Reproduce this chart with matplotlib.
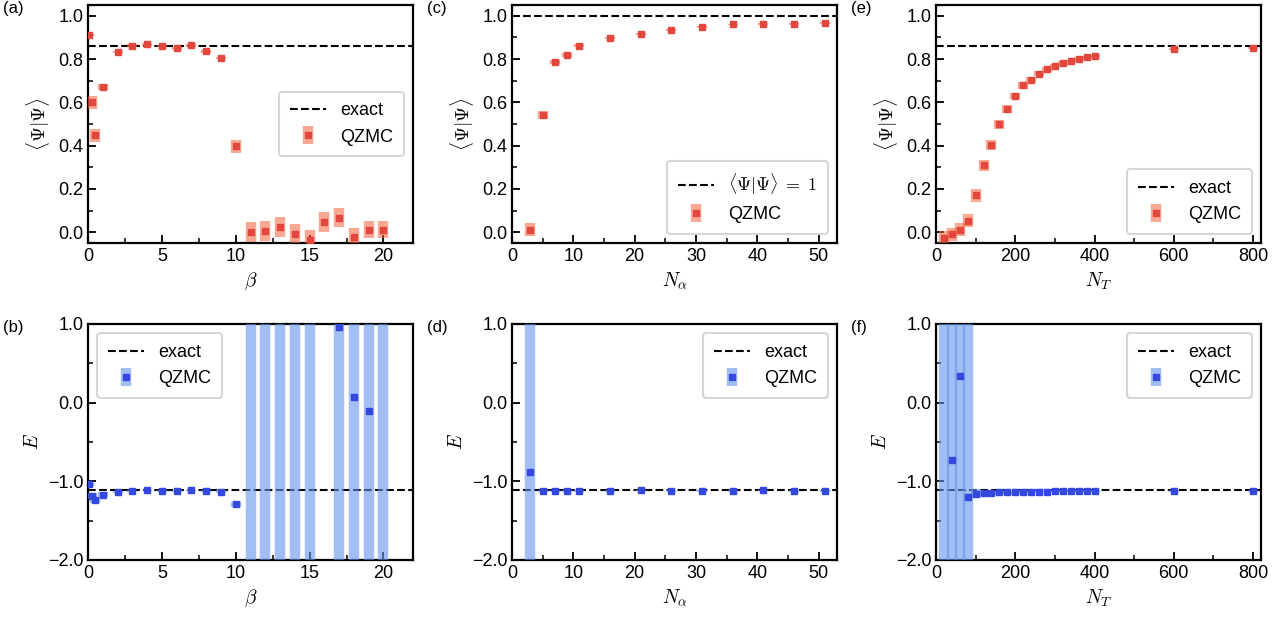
import numpy as np
import matplotlib
matplotlib.use('Agg')
import matplotlib.pyplot as plt
from matplotlib.ticker import MultipleLocator, FuncFormatter

plt.rcParams['font.family'] = ['Liberation Sans', 'DejaVu Sans']
plt.rcParams['mathtext.fontset'] = 'cm'
plt.rcParams['font.size'] = 13

# ---- data ----
beta = [0.1, 0.25, 0.5, 1, 2, 3, 4, 5, 6, 7, 8, 9, 10,
        11, 12, 13, 14, 15, 16, 17, 18, 19, 20]
norm_beta = [0.91, 0.60, 0.448, 0.67, 0.833, 0.862, 0.868, 0.860, 0.850, 0.864, 0.836, 0.805, 0.398,
             0.0, 0.006, 0.025, -0.009, -0.036, 0.047, 0.067, -0.02, 0.011, 0.012]
norm_beta_err = [0.005, 0.03, 0.03, 0.015, 0.006, 0.006, 0.006, 0.006, 0.006, 0.006, 0.006, 0.006, 0.03,
                 0.045, 0.045, 0.045, 0.045, 0.045, 0.045, 0.045, 0.04, 0.04, 0.04]
E_beta = [-1.04, -1.19, -1.24, -1.17, -1.135, -1.12, -1.115, -1.12, -1.12, -1.115, -1.12, -1.13, -1.29,
          2.8, -3.5, 4.1, -2.6, 3.3, np.nan, 0.966, 0.076, -0.10, 2.2]
E_beta_err = [0.02, 0.04, 0.04, 0.03, 0.015, 0.01, 0.01, 0.01, 0.01, 0.01, 0.01, 0.015, 0.03,
              9.0, 9.0, 9.0, 9.0, 9.0, np.nan, 9.0, 9.0, 9.0, 9.0]

n_alpha = [3, 5, 7, 9, 11, 16, 21, 26, 31, 36, 41, 46, 51]
norm_na = [0.011, 0.541, 0.788, 0.82, 0.862, 0.899, 0.915, 0.933, 0.947, 0.96, 0.963, 0.963, 0.967]
norm_na_err = [0.03, 0.02, 0.01, 0.01, 0.008, 0.004, 0.004, 0.004, 0.004, 0.004, 0.004, 0.004, 0.004]
E_na = [-0.886, -1.125, -1.12, -1.12, -1.12, -1.12, -1.115, -1.12, -1.12, -1.12, -1.115, -1.12, -1.12]
E_na_err = [9.0, 0.01, 0.01, 0.01, 0.01, 0.01, 0.01, 0.01, 0.01, 0.01, 0.01, 0.01, 0.01]

n_T = [20, 40, 60, 80, 100, 120, 140, 160, 180, 200, 220, 240, 260, 280, 300,
       320, 340, 360, 380, 400, 600, 800]
norm_nt = [-0.026, -0.009, 0.011, 0.053, 0.171, 0.31, 0.403, 0.499, 0.569, 0.629, 0.678, 0.705, 0.733,
           0.752, 0.77, 0.783, 0.792, 0.802, 0.809, 0.814, 0.845, 0.851]
norm_nt_err = [0.03, 0.03, 0.03, 0.03, 0.03, 0.025, 0.025, 0.02, 0.02, 0.015, 0.015, 0.012, 0.01,
               0.01, 0.008, 0.008, 0.006, 0.006, 0.006, 0.005, 0.005, 0.005]
E_nt = [-3.2, -0.733, 0.339, -1.203, -1.155, -1.15, -1.15, -1.14, -1.14, -1.14, -1.13, -1.13, -1.13,
        -1.13, -1.125, -1.125, -1.125, -1.125, -1.12, -1.12, -1.12, -1.12]
E_nt_err = [9.0, 9.0, 9.0, 9.0, 0.06, 0.04, 0.03, 0.02, 0.02, 0.015, 0.015, 0.01, 0.01,
            0.01, 0.01, 0.01, 0.01, 0.01, 0.01, 0.01, 0.01, 0.01]

norm_exact = 0.86
E_exact = -1.114

red, red_bar = '#e2473d', '#f5623a'
blue, blue_bar = '#3548de', 'cornflowerblue'

fig = plt.figure(figsize=(12.86, 6.17), dpi=100)
W, H = 1286, 617


def make_ax(left, top, width=325, height=238):
    return fig.add_axes([left / W, (H - top - height) / H, width / W, height / H])


def style(ax):
    for s in ax.spines.values():
        s.set_linewidth(1.6)
    ax.tick_params(which='both', direction='in', top=False, right=False, labelsize=13)
    ax.tick_params(which='major', length=6, width=1.3)
    ax.tick_params(which='minor', length=3.5, width=1.1)


def qzmc(ax, x, y, err, c, cb, alpha):
    eb = ax.errorbar(x, y, yerr=err, fmt='s', ms=4.5, mfc=c, mec=c, ecolor=cb,
                     elinewidth=7.5, label='QZMC', zorder=3)
    eb[2][0].set_alpha(alpha)
    return eb


one_dec = FuncFormatter(lambda v, p: ('%.1f' % v).replace('-', '\u2212'))

axa = make_ax(88, 5)
axb = make_ax(88, 324, height=236)
axc = make_ax(512, 5)
axd = make_ax(512, 324, height=236)
axe = make_ax(936, 5)
axf = make_ax(936, 324, height=236)

# top row: norm
for ax, x, y, e in [(axa, beta, norm_beta, norm_beta_err),
                    (axc, n_alpha, norm_na, norm_na_err),
                    (axe, n_T, norm_nt, norm_nt_err)]:
    ref = 1.0 if ax is axc else norm_exact
    lab = r'$\langle\Psi|\Psi\rangle\;=\;1$' if ax is axc else 'exact'
    ax.axhline(ref, color='k', ls='--', lw=1.5, label=lab, zorder=2)
    qzmc(ax, x, y, e, red, red_bar, 0.55)
    ax.set_ylim(-0.05, 1.05)
    ax.yaxis.set_major_locator(MultipleLocator(0.2))
    ax.yaxis.set_minor_locator(MultipleLocator(0.1))
    ax.set_ylabel(r'$\langle\Psi|\Psi\rangle$', fontsize=14)

# bottom row: energy
for ax, x, y, e in [(axb, beta, E_beta, E_beta_err),
                    (axd, n_alpha, E_na, E_na_err),
                    (axf, n_T, E_nt, E_nt_err)]:
    ax.axhline(E_exact, color='k', ls='--', lw=1.5, label='exact', zorder=2)
    qzmc(ax, x, y, e, blue, blue_bar, 0.6)
    ax.set_ylim(-2.0, 1.0)
    ax.yaxis.set_major_locator(MultipleLocator(1.0))
    ax.yaxis.set_minor_locator(MultipleLocator(0.5))
    ax.yaxis.set_major_formatter(one_dec)
    ax.set_ylabel(r'$E$', fontsize=14)

for ax in (axa, axb):
    ax.set_xlim(0, 22)
    ax.xaxis.set_major_locator(MultipleLocator(5))
    ax.xaxis.set_minor_locator(MultipleLocator(2.5))
    ax.set_xlabel(r'$\beta$', fontsize=14)
for ax in (axc, axd):
    ax.set_xlim(0, 53)
    ax.xaxis.set_major_locator(MultipleLocator(10))
    ax.xaxis.set_minor_locator(MultipleLocator(5))
    ax.set_xlabel(r'$N_\alpha$', fontsize=14)
for ax in (axe, axf):
    ax.set_xlim(0, 820)
    ax.xaxis.set_major_locator(MultipleLocator(200))
    ax.xaxis.set_minor_locator(MultipleLocator(100))
    ax.set_xlabel(r'$N_T$', fontsize=14)

legpos = {axa: 'center right', axb: 'upper left', axc: 'lower right',
          axd: 'upper right', axe: 'lower right', axf: 'upper right'}
for ax, tag in zip([axa, axb, axc, axd, axe, axf], 'abcdef'):
    style(ax)
    leg = ax.legend(loc=legpos[ax], fontsize=13, fancybox=True, borderpad=0.6)
    leg.get_frame().set_linewidth(1.5)
    leg.get_frame().set_edgecolor('#cccccc')
    ax.text(-0.26, 0.985, '(%s)' % tag, transform=ax.transAxes, fontsize=12, va='center')

fig.savefig('out.png', dpi=100)
